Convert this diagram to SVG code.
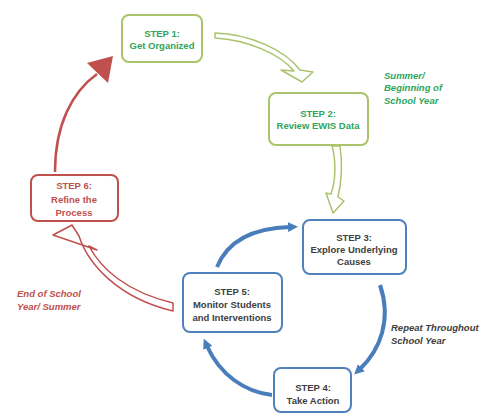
<svg xmlns="http://www.w3.org/2000/svg" width="486" height="415" viewBox="0 0 486 415">
<defs>
<style>
.box{fill:#fff;stroke-width:2}
.g{stroke:#a9c46c}
.r{stroke:#c0504d}
.b{stroke:#4f81bd}
.t{font-family:"Liberation Sans",Arial,sans-serif;font-size:9.5px;font-weight:bold;text-anchor:middle}
.tg{fill:#2ea55a}
.tr{fill:#c0504d}
.tb{fill:#404040}
.lab{font-family:"Liberation Sans",Arial,sans-serif;font-size:9.5px;font-weight:bold;font-style:italic}
.hollow{fill:#fff;stroke-width:1.5;stroke-linejoin:round}
.blue{fill:none;stroke:#4a7ebb;stroke-width:4}
</style>
<marker id="bh" viewBox="0 0 10 10" refX="2" refY="5" markerWidth="10" markerHeight="10" markerUnits="userSpaceOnUse" orient="auto">
<path d="M0,0 L10,5 L0,10 z" fill="#4a7ebb"/>
</marker>
</defs>
<rect width="486" height="415" fill="#fff"/>
<g id="connectors">
<path class="hollow g" d="M215,33 C250,34 285,50 300,70 L313,72 L302,82 L281,70 L294,71 C280,54 248,40 215,38 Z"/>
<path class="hollow g" d="M332,146 C336,160 336,180 331,194 L326,193 L333,213 L344,201 L338,197 C342,180 342,160 340,146 Z"/>
<path class="blue" d="M380,285 C392,320 380,350 360,369" marker-end="url(#bh)"/>
<path class="blue" d="M272,395 C245,392 220,375 207,346" marker-end="url(#bh)"/>
<path class="blue" d="M217,267 C228,240 255,228 290,227" marker-end="url(#bh)"/>
<path class="hollow r" d="M53,235 L72,225 L79,236 C88,264 118,298 173,311 L173,303 C127,292 101,269 89,246 L97,250 Z"/>
<path d="M55,172 C55,125 72,92 97,74" fill="none" stroke="#c0504d" stroke-width="2.5"/>
<polygon points="87,63 113,56 108,83" fill="#c0504d"/>
</g>
<g id="step1">
<rect class="box g" x="122" y="15" width="80" height="47" rx="7"/>
<text class="t tg" x="162" y="37">STEP 1:</text>
<text class="t tg" x="162" y="49">Get Organized</text>
</g>
<g id="step2">
<rect class="box g" x="269" y="93" width="99" height="52" rx="7"/>
<text class="t tg" x="318" y="117">STEP 2:</text>
<text class="t tg" x="318" y="129">Review EWIS Data</text>
</g>
<g id="step3">
<rect class="box b" x="303" y="220" width="103" height="54" rx="7"/>
<text class="t tb" x="354" y="241">STEP 3:</text>
<text class="t tb" x="354" y="253">Explore Underlying</text>
<text class="t tb" x="354" y="265">Causes</text>
</g>
<g id="step4">
<rect class="box b" x="274" y="368" width="77" height="44" rx="7"/>
<text class="t tb" x="313" y="391">STEP 4:</text>
<text class="t tb" x="313" y="404">Take Action</text>
</g>
<g id="step5">
<rect class="box b" x="183" y="273" width="99" height="59" rx="7"/>
<text class="t tb" x="232" y="295">STEP 5:</text>
<text class="t tb" x="232" y="308">Monitor Students</text>
<text class="t tb" x="232" y="321">and Interventions</text>
</g>
<g id="step6">
<rect class="box r" x="31" y="175" width="87" height="46" rx="7"/>
<text class="t tr" x="74" y="189">STEP 6:</text>
<text class="t tr" x="74" y="203">Refine the</text>
<text class="t tr" x="74" y="216">Process</text>
</g>
<g id="labels">
<text class="lab" fill="#2ea55a" x="384" y="79">Summer/</text>
<text class="lab" fill="#2ea55a" x="384" y="91">Beginning of</text>
<text class="lab" fill="#2ea55a" x="384" y="104">School Year</text>
<text class="lab" fill="#c0504d" x="17" y="297">End of School</text>
<text class="lab" fill="#c0504d" x="17" y="310">Year/ Summer</text>
<text class="lab" fill="#404040" x="391" y="331">Repeat Throughout</text>
<text class="lab" fill="#404040" x="391" y="344">School Year</text>
</g>
</svg>
